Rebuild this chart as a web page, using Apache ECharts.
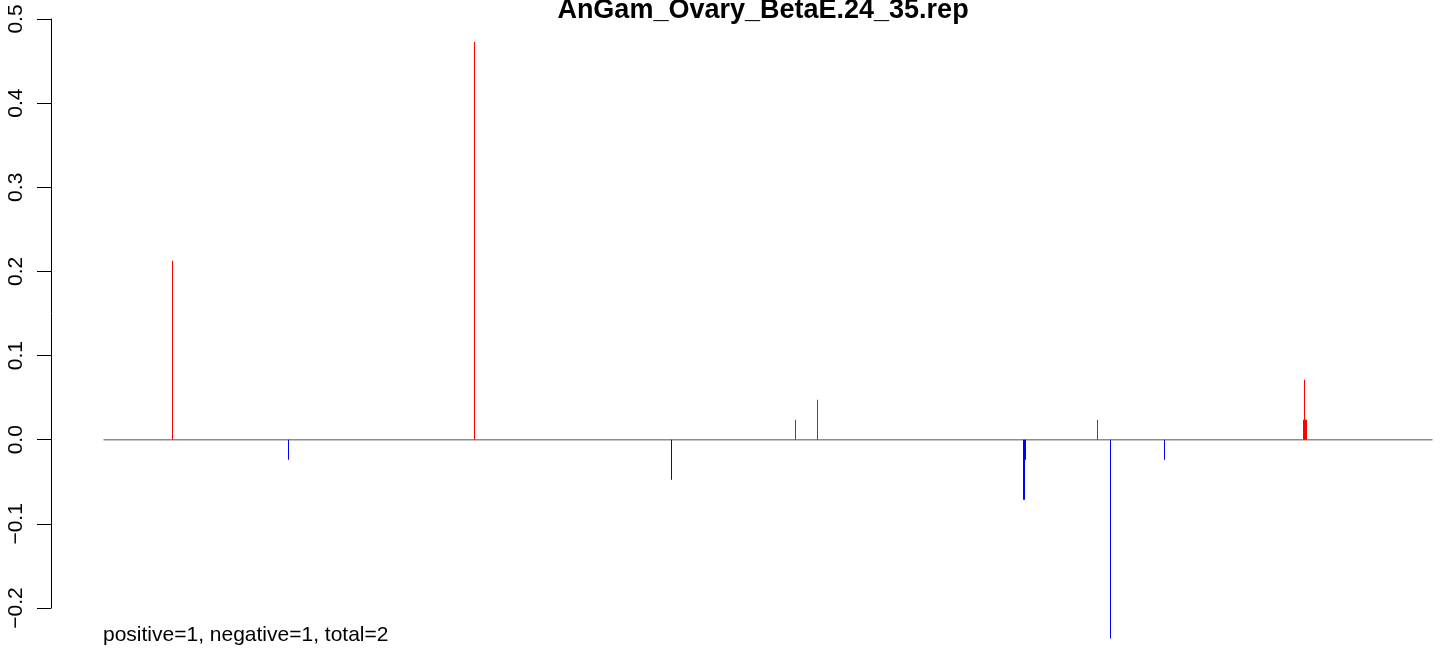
<!DOCTYPE html>
<html>
<head>
<meta charset="utf-8">
<script src="https://cdn.jsdelivr.net/npm/echarts@6/dist/echarts.min.js"></script>
<style>html,body{margin:0;padding:0;background:#fff}#c{width:1444px;height:655px}</style>
</head>
<body>
<div id="c"></div>
<script>
// Positions along the sequence (arbitrary units) and scores
var positions = [69, 185, 371, 568, 692, 714, 920, 921, 922, 994, 1007, 1061, 1200, 1201, 1202, 1203, 1201];
var scores    = [0.2126, -0.0238, 0.4727, -0.0475, 0.0238, 0.0475, -0.0713, -0.0713, -0.0238, 0.0238, -0.2363, -0.0238, 0.0238, 0.0238, 0.0238, 0.0238, 0.0713];
var seqStart = 0, seqEnd = 1329;
var yTicks = [-0.2, -0.1, 0.0, 0.1, 0.2, 0.3, 0.4, 0.5];
var titleText = 'AnGam_Ovary_BetaE.24_35.rep';
var footText = 'positive=1, negative=1, total=2';

var barData = positions.map(function (p, i) { return [p, scores[i]]; });

var chart = echarts.init(document.getElementById('c'), null, {renderer: 'canvas'});
chart.setOption({
  animation: false,
  backgroundColor: '#fff',
  title: [
    {text: titleText, left: 763, textAlign: 'center', top: -3, padding: 0,
     textStyle: {fontFamily: 'Liberation Sans', fontWeight: 'bold', fontSize: 27, color: '#000'}},
    {text: footText, left: 103, top: 625, padding: 0,
     textStyle: {fontFamily: 'Liberation Sans', fontWeight: 'normal', fontSize: 21, color: '#000'}}
  ],
  grid: {left: 51, right: 0, top: 19, bottom: 47, containLabel: false},
  xAxis: {type: 'value', min: -52.5, max: 1340.5, show: false},
  yAxis: {
    type: 'value', min: yTicks[0], max: yTicks[yTicks.length - 1], interval: 0.1,
    axisLine: {show: true, onZero: false, lineStyle: {color: '#000', width: 1}},
    axisTick: {show: true, length: 14, lineStyle: {color: '#000', width: 1}},
    splitLine: {show: false},
    axisLabel: {rotate: 90, margin: 24, fontFamily: 'Liberation Sans', fontSize: 21, color: '#000',
      formatter: function (v) { return (v < 0 ? '\u2212' : '') + Math.abs(v).toFixed(1); }}
  },
  series: [
    {type: 'line', data: [[seqStart, 0], [seqEnd, 0]], symbol: 'none', silent: true,
     lineStyle: {color: '#8c8c8c', width: 1.5}, z: 1},
    {type: 'bar', data: barData, barWidth: 1, clip: false, z: 2,
     itemStyle: {color: function (p) { return p.value[1] >= 0 ? '#ff0000' : '#0000ff'; }}}
  ]
});
</script>
</body>
</html>
